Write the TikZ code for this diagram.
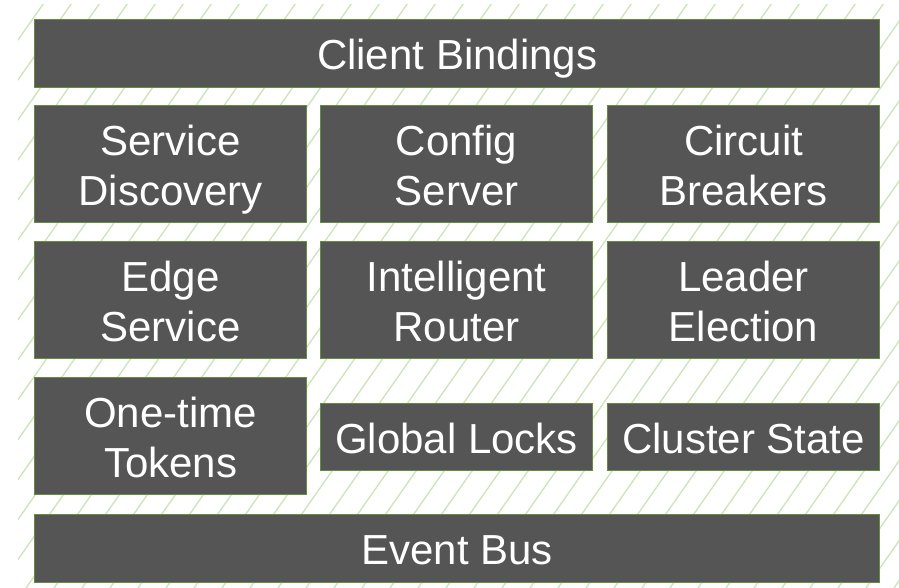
\documentclass[tikz,border=0pt]{standalone}
\usepackage{fontspec}
\setmainfont{Liberation Sans}
\definecolor{boxgray}{RGB}{85,85,85}
\definecolor{boxedge}{RGB}{100,140,60}
\definecolor{hatch}{RGB}{205,228,185}
\begin{document}
\begin{tikzpicture}[x=1pt,y=-1pt,
  blk/.style={draw=boxedge, line width=1.2pt, fill=boxgray, text=white,
    font=\fontsize{42}{50}\selectfont, align=center, inner sep=0pt,
    text height=32pt, text depth=0pt, anchor=north west},
  blktwo/.style={blk, text height=82pt, minimum width=272pt, minimum height=117pt},
  wide/.style={blk, minimum width=845pt, minimum height=68pt},
  short/.style={blk, minimum width=272pt, minimum height=67pt}]
\useasboundingbox (0,0) rectangle (899,588);
\fill[white] (0,0) rectangle (899,588);
\begin{scope}
  \clip (18,5) rectangle (899,588);
  \foreach \c in {-450,-422,...,920} {
    \draw[hatch, line width=1.3pt] (\c,588) -- (\c+412,0);
  }
\end{scope}
\node[wide] (cb) at (34,19) {Client Bindings};
\node[blktwo] (sd) at (34,105) {Service\\Discovery};
\node[blktwo] (cs) at (320,105) {Config\\Server};
\node[blktwo] (br) at (607,105) {Circuit\\Breakers};
\node[blktwo] (es) at (34,241) {Edge\\Service};
\node[blktwo] (ir) at (320,241) {Intelligent\\Router};
\node[blktwo] (le) at (607,241) {Leader\\Election};
\node[blktwo] (ot) at (34,377) {One-time\\Tokens};
\node[short] (gl) at (320,403) {Global Locks};
\node[short] (cst) at (607,403) {Cluster State};
\node[wide] (eb) at (34,514) {Event Bus};
\end{tikzpicture}
\end{document}
